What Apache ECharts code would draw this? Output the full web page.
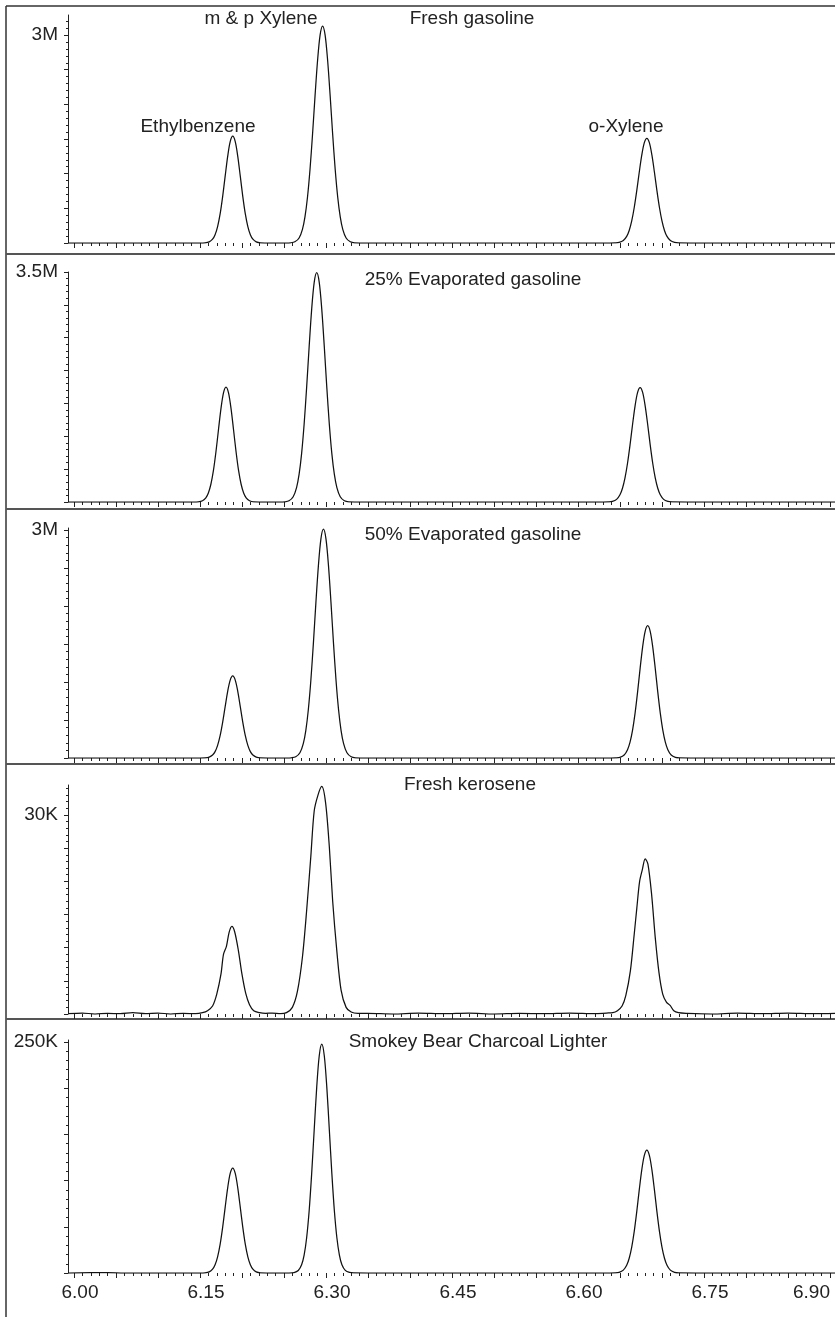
<!DOCTYPE html>
<html><head><meta charset="utf-8">
<script src="https://cdn.jsdelivr.net/npm/echarts@6/dist/echarts.min.js"></script>
<style>html,body{margin:0;padding:0;background:#fff}#c{width:835px;height:1317px}</style>
</head><body><div id="c"></div>
<script>
// ---------- DATA ----------
const xTickLabels = ['6.00','6.15','6.30','6.45','6.60','6.75','6.90'];
const panelTitles = ['Fresh gasoline','25% Evaporated gasoline','50% Evaporated gasoline','Fresh kerosene','Smokey Bear Charcoal Lighter'];
const peakNames = ['Ethylbenzene','m & p Xylene','o-Xylene'];
const yTopLabels = ['3M','3.5M','3M','30K','250K'];
const yTopValues = [3, 3.5, 3, 30, 250];
const yMajorStep = [0.5, 0.5, 0.5, 5, 50];
const yMinorStep = [0.1, 0.1, 0.1, 1, 10];

// signal in millions (M) for gasoline panels, thousands (K) for the others; [time (min), signal]
const freshGasoline = [
 [5.993,0],[6.100,0],[6.150,0],
 [6.156,0.003],[6.161,0.017],[6.165,0.055],[6.168,0.120],[6.171,0.237],[6.174,0.419],[6.177,0.670],[6.180,0.964],[6.183,1.250],[6.186,1.461],
 [6.189,1.54],
 [6.192,1.461],[6.195,1.250],[6.198,0.964],[6.201,0.670],[6.204,0.419],[6.207,0.237],[6.210,0.120],[6.213,0.055],[6.217,0.017],[6.222,0.003],
 [6.235,0],[6.252,0],
 [6.258,0.003],[6.263,0.017],[6.268,0.072],[6.272,0.197],[6.275,0.376],[6.278,0.660],[6.281,1.061],[6.284,1.565],[6.287,2.122],[6.290,2.632],[6.293,2.999],
 [6.296,3.13],
 [6.299,2.999],[6.302,2.632],[6.305,2.122],[6.308,1.565],[6.311,1.061],[6.314,0.660],[6.317,0.376],[6.320,0.197],[6.324,0.072],[6.329,0.017],[6.334,0.003],
 [6.350,0],[6.500,0],[6.638,0],
 [6.644,0.002],[6.649,0.008],[6.654,0.035],[6.658,0.095],[6.661,0.181],[6.664,0.319],[6.667,0.512],[6.670,0.755],[6.673,1.024],[6.676,1.270],[6.679,1.447],
 [6.682,1.51],
 [6.685,1.447],[6.688,1.270],[6.691,1.024],[6.694,0.755],[6.697,0.512],[6.700,0.319],[6.703,0.181],[6.706,0.095],[6.710,0.035],[6.715,0.008],[6.720,0.002],
 [6.740,0],[6.906,0]
];
const evaporated25 = [
 [5.993,0],[6.100,0],[6.142,0],
 [6.148,0.003],[6.153,0.019],[6.157,0.063],[6.160,0.137],[6.163,0.270],[6.166,0.476],[6.169,0.761],[6.172,1.096],[6.175,1.421],[6.178,1.661],
 [6.181,1.75],
 [6.184,1.661],[6.187,1.421],[6.190,1.096],[6.193,0.761],[6.196,0.476],[6.199,0.270],[6.202,0.137],[6.205,0.063],[6.209,0.019],[6.214,0.003],
 [6.230,0],[6.245,0],
 [6.251,0.003],[6.256,0.018],[6.261,0.080],[6.265,0.220],[6.268,0.419],[6.271,0.736],[6.274,1.183],[6.277,1.745],[6.280,2.366],[6.283,2.935],[6.286,3.343],
 [6.289,3.49],
 [6.292,3.343],[6.295,2.935],[6.298,2.366],[6.301,1.745],[6.304,1.183],[6.307,0.736],[6.310,0.419],[6.313,0.220],[6.317,0.080],[6.322,0.018],[6.327,0.003],
 [6.345,0],[6.500,0],[6.630,0],
 [6.636,0.002],[6.641,0.009],[6.646,0.040],[6.650,0.110],[6.653,0.209],[6.656,0.367],[6.659,0.590],[6.662,0.870],[6.665,1.180],[6.668,1.463],[6.671,1.667],
 [6.674,1.74],
 [6.677,1.667],[6.680,1.463],[6.683,1.180],[6.686,0.870],[6.689,0.590],[6.692,0.367],[6.695,0.209],[6.698,0.110],[6.702,0.040],[6.707,0.009],[6.712,0.002],
 [6.730,0],[6.906,0]
];
const evaporated50 = [
 [5.993,0],[6.100,0],[6.150,0],
 [6.156,0.002],[6.161,0.012],[6.165,0.039],[6.168,0.084],[6.171,0.166],[6.174,0.294],[6.177,0.470],[6.180,0.676],[6.183,0.877],[6.186,1.025],
 [6.189,1.08],
 [6.192,1.025],[6.195,0.877],[6.198,0.676],[6.201,0.470],[6.204,0.294],[6.207,0.166],[6.210,0.084],[6.213,0.039],[6.217,0.012],[6.222,0.002],
 [6.235,0],[6.253,0],
 [6.259,0.003],[6.264,0.016],[6.269,0.069],[6.273,0.190],[6.276,0.361],[6.279,0.635],[6.282,1.020],[6.285,1.505],[6.288,2.041],[6.291,2.531],[6.294,2.884],
 [6.297,3.01],
 [6.300,2.884],[6.303,2.531],[6.306,2.041],[6.309,1.505],[6.312,1.020],[6.315,0.635],[6.318,0.361],[6.321,0.190],[6.325,0.069],[6.330,0.016],[6.335,0.003],
 [6.350,0],[6.500,0],[6.639,0],
 [6.645,0.002],[6.650,0.009],[6.655,0.040],[6.659,0.110],[6.662,0.209],[6.665,0.367],[6.668,0.590],[6.671,0.870],[6.674,1.180],[6.677,1.463],[6.680,1.667],
 [6.683,1.74],
 [6.686,1.667],[6.689,1.463],[6.692,1.180],[6.695,0.870],[6.698,0.590],[6.701,0.367],[6.704,0.209],[6.707,0.110],[6.711,0.040],[6.716,0.009],[6.721,0.002],
 [6.740,0],[6.906,0]
];
const freshKerosene = [
 [5.993,0.05],[6.010,0.15],[6.025,0.0],[6.040,0.1],[6.055,0.05],[6.070,0.2],[6.085,0.05],[6.100,0.15],[6.115,0.0],[6.130,0.1],[6.145,0.05],
 [6.153,0.2],[6.159,0.5],[6.165,1.2],[6.170,3.0],[6.175,6.0],[6.178,9.0],[6.1815,10.2],[6.1847,12.3],[6.188,13.2],
 [6.1913,12.4],[6.1957,9.6],[6.200,6.0],[6.2045,3.1],[6.209,1.4],[6.214,0.5],[6.221,0.2],[6.228,0.1],
 [6.236,0.15],[6.246,0.05],
 [6.253,0.2],[6.260,1.0],[6.266,3.4],[6.272,8.6],[6.277,15.6],[6.282,23.8],[6.286,30.6],[6.2905,33.0],[6.295,34.3],
 [6.2995,31.9],[6.304,25.2],[6.308,17.0],[6.313,9.4],[6.318,3.6],[6.324,1.0],[6.330,0.3],[6.338,0.1],
 [6.350,0.1],[6.380,0.0],[6.410,0.15],[6.440,0.05],[6.470,0.15],[6.500,0.0],[6.530,0.1],[6.560,0.05],[6.590,0.15],[6.620,0.05],[6.634,0.15],
 [6.6415,0.2],[6.647,0.5],[6.6525,1.2],[6.657,2.8],[6.6624,6.5],[6.6668,11.8],[6.6701,16.0],[6.6734,20.0],[6.6767,21.8],[6.680,23.4],
 [6.6833,22.6],[6.6877,18.0],[6.6921,11.4],[6.6965,6.2],[6.7009,3.0],[6.7053,1.8],[6.7097,1.3],[6.7141,0.5],[6.7196,0.2],
 [6.730,0.1],[6.760,0.0],[6.790,0.15],[6.820,0.05],[6.850,0.15],[6.880,0.05],[6.906,0.1]
];
const charcoalLighter = [
 [5.993,0],[6.040,0.4],[6.060,0],[6.100,0],[6.150,0],
 [6.156,0.2],[6.161,1.2],[6.165,4.1],[6.168,8.9],[6.171,17.5],[6.174,30.9],[6.177,49.4],[6.180,71.1],[6.183,92.2],[6.186,107.8],
 [6.189,113.6],
 [6.192,107.8],[6.195,92.2],[6.198,71.1],[6.201,49.4],[6.204,30.9],[6.207,17.5],[6.210,8.9],[6.213,4.1],[6.217,1.2],[6.222,0.2],
 [6.240,0],[6.256,0],
 [6.262,0.4],[6.267,2.7],[6.271,8.9],[6.274,19.3],[6.277,38.2],[6.280,67.4],[6.283,107.8],[6.286,155.1],[6.289,201.2],[6.292,235.2],
 [6.295,247.8],
 [6.298,235.2],[6.301,201.2],[6.304,155.1],[6.307,107.8],[6.310,67.4],[6.313,38.2],[6.316,19.3],[6.319,8.9],[6.323,2.9],[6.328,0.6],[6.333,0.1],
 [6.350,0],[6.500,0],[6.638,0],
 [6.644,0.1],[6.649,0.7],[6.654,3.1],[6.658,8.4],[6.661,16.0],[6.664,28.1],[6.667,45.1],[6.670,66.5],[6.673,90.2],[6.676,111.9],[6.679,127.4],
 [6.682,133],
 [6.685,127.4],[6.688,111.9],[6.691,90.2],[6.694,66.5],[6.697,45.1],[6.700,28.1],[6.703,16.0],[6.706,8.4],[6.710,3.1],[6.715,0.7],[6.720,0.1],
 [6.740,0],[6.906,0]
];
const panelData = [freshGasoline, evaporated25, evaporated50, freshKerosene, charcoalLighter];

// ---------- LAYOUT ----------
const W = 835, H = 1317;
const FONT = '"Liberation Sans", Arial, Helvetica, sans-serif';
const TXT = '#222';
const xMin = 5.9929, xMax = 6.906;
const gridTop = [15, 272, 528, 785, 1040];
const gridBase = [243, 502, 758, 1014, 1273];
const yMax = [3.289, 3.5, 3.026, 34.52, 252.2];

function range(a, b, step) {
  const out = [];
  const n = Math.round((b - a) / step);
  for (let i = 0; i <= n; i++) out.push(+(a + i * step).toFixed(4));
  return out;
}
const xMajor = range(6.0, 6.9, 0.05);
const xMinor = range(6.0, 6.9, 0.01);
const xLabelVals = xTickLabels.map(Number);

const grids = [], xAxes = [], yAxes = [], series = [];
for (let p = 0; p < 5; p++) {
  grids.push({ left: 68, width: W - 68, top: gridTop[p], height: gridBase[p] - gridTop[p], containLabel: false });
  const last = p === 4;
  const baseX = { type: 'value', gridIndex: p, min: xMin, max: xMax, position: 'bottom',
    axisLine: { show: false }, splitLine: { show: false } };
  xAxes.push(Object.assign({}, baseX, {
    axisTick: { show: true, inside: false, length: 5, customValues: xMajor, lineStyle: { color: TXT, width: 1 } },
    axisLabel: last ? { show: true, customValues: xLabelVals, formatter: v => xTickLabels[xLabelVals.indexOf(v)] ?? v.toFixed(2),
      fontSize: 19, fontFamily: FONT, color: TXT, margin: 10, padding: [0, 0, 0, 12], alignMaxLabel: 'right' } : { show: false }
  }));
  xAxes.push(Object.assign({}, baseX, {
    axisTick: { show: true, inside: false, length: 3, customValues: xMinor, lineStyle: { color: TXT, width: 1 } },
    axisLabel: { show: false }
  }));
  const major = range(0, yTopValues[p], yMajorStep[p]);
  const minor = range(0, Math.floor(yMax[p] / yMinorStep[p]) * yMinorStep[p], yMinorStep[p]);
  const baseY = { type: 'value', gridIndex: p, min: 0, max: yMax[p], position: 'left', splitLine: { show: false } };
  yAxes.push(Object.assign({}, baseY, {
    axisLine: { show: true, lineStyle: { color: TXT, width: 1 } },
    axisTick: { show: true, inside: false, length: 4, customValues: major, lineStyle: { color: TXT, width: 1 } },
    axisLabel: { show: true, customValues: [yTopValues[p]], formatter: () => yTopLabels[p],
      fontSize: 19, fontFamily: FONT, color: TXT, margin: 10 }
  }));
  yAxes.push(Object.assign({}, baseY, {
    axisLine: { show: false },
    axisTick: { show: true, inside: false, length: 2, customValues: minor, lineStyle: { color: TXT, width: 1 } },
    axisLabel: { show: false }
  }));
  series.push({ type: 'line', xAxisIndex: 2 * p, yAxisIndex: 2 * p, data: panelData[p],
    showSymbol: false, symbol: 'none', smooth: 0.3, clip: true,
    lineStyle: { color: '#111', width: 1.25, join: 'round' }, silent: true });
}

function txt(t, x, y) {
  return { type: 'text', x: x, y: y, silent: true,
    style: { text: t, fill: TXT, font: '19px ' + FONT, align: 'center', verticalAlign: 'middle' } };
}
function line(x1, y1, x2, y2, c, w) {
  return { type: 'line', silent: true, shape: { x1, y1, x2, y2 }, style: { stroke: c, lineWidth: w } };
}
const graphics = [
  line(6, 6, W, 6, '#333', 1.5),
  line(6, 6, 6, H, '#333', 1.5),
  line(6, 254, W, 254, '#555', 2),
  line(6, 509, W, 509, '#555', 2),
  line(6, 764, W, 764, '#555', 2),
  line(6, 1019, W, 1019, '#555', 2),
  txt(panelTitles[0], 472, 19),
  txt(peakNames[1], 261, 19),
  txt(peakNames[0], 198, 127),
  txt(peakNames[2], 626, 127),
  txt(panelTitles[1], 473, 280),
  txt(panelTitles[2], 473, 535),
  txt(panelTitles[3], 470, 785),
  txt(panelTitles[4], 478, 1042)
];

const chart = echarts.init(document.getElementById('c'), null, { renderer: 'canvas', width: W, height: H });
chart.setOption({
  animation: false,
  backgroundColor: '#fff',
  grid: grids, xAxis: xAxes, yAxis: yAxes, series: series,
  graphic: graphics
});
</script></body></html>
